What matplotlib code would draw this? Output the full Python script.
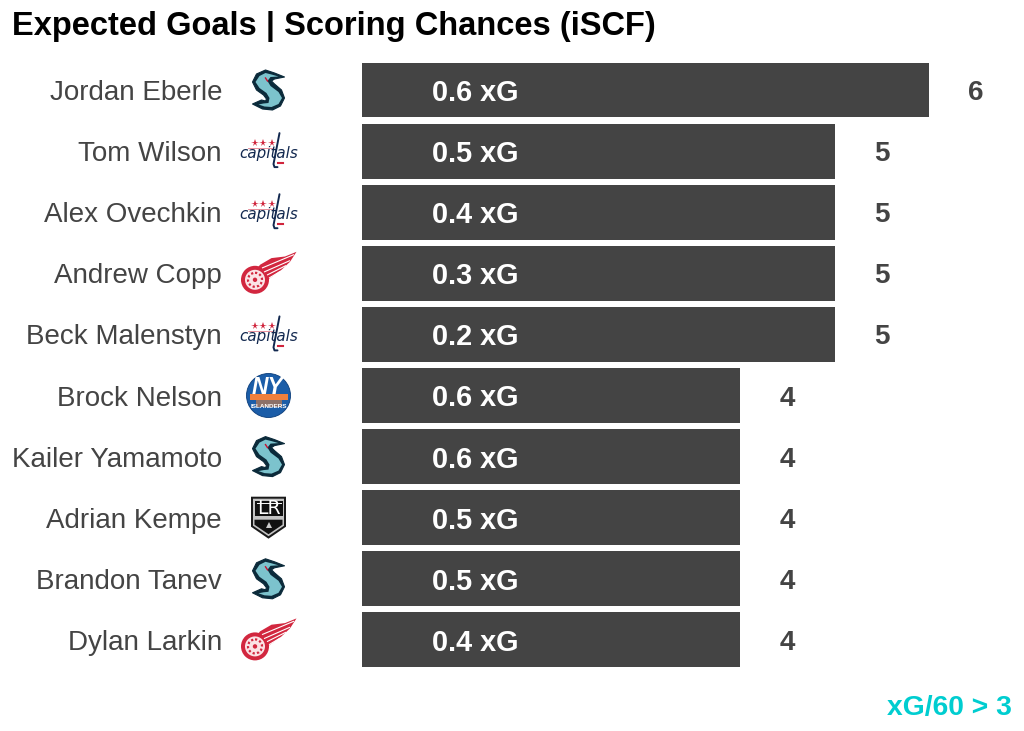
import matplotlib
matplotlib.use("Agg")
import matplotlib.pyplot as plt
from matplotlib.patches import Circle, Polygon, Rectangle

plt.rcParams['font.family'] = ['Liberation Sans', 'DejaVu Sans']

players = ["Jordan Eberle", "Tom Wilson", "Alex Ovechkin", "Andrew Copp", "Beck Malenstyn",
           "Brock Nelson", "Kailer Yamamoto", "Adrian Kempe", "Brandon Tanev", "Dylan Larkin"]
teams = ["SEA", "WSH", "WSH", "DET", "WSH", "NYI", "SEA", "LAK", "SEA", "DET"]
iscf = [6, 5, 5, 5, 5, 4, 4, 4, 4, 4]
xg = [0.6, 0.5, 0.4, 0.3, 0.2, 0.6, 0.6, 0.5, 0.5, 0.4]

W, H = 1024, 731
GREY = "#444444"
PT = 0.72

fig = plt.figure(figsize=(W / 100, H / 100), dpi=100, facecolor="white")
PX_PER_UNIT = 94.5
PITCH = 61.1
FIRST = 90.0
top, bottom = FIRST - PITCH / 2, FIRST + 9.5 * PITCH
ax = fig.add_axes([362 / W, 1 - bottom / H, (W - 362) / W, (bottom - top) / H])
ax.set_xlim(0, (W - 362) / PX_PER_UNIT)
ax.set_ylim(len(players) - 0.5, -0.5)
ypos = list(range(len(players)))
ax.barh(ypos, iscf, height=0.9, color=GREY)
ax.set_yticks(ypos, players, fontsize=20.0, color=GREY)
ax.tick_params(axis="y", length=0, pad=140 * PT)
ax.set_xticks([])
for s in ax.spines.values():
    s.set_visible(False)
ax.patch.set_visible(False)

for i in ypos:
    ax.text(70 / PX_PER_UNIT, i, f"{xg[i]:.1f} xG", color="white", fontsize=20.8,
            fontweight="bold", va="center_baseline", ha="left")
    ax.text(iscf[i] + 47 / PX_PER_UNIT, i, f"{iscf[i]}", color=GREY, fontsize=20,
            fontweight="bold", va="center_baseline", ha="center")

fig.text(12 / W, 1 - 35.5 / H, "Expected Goals | Scoring Chances (iSCF)", fontsize=23.5,
         fontweight="bold", color="black", ha="left", va="baseline")
fig.text(1012 / W, 1 - 715 / H, "xG/60 > 3", fontsize=20.3, fontweight="bold",
         color="#00CDD0", ha="right", va="baseline")

# Overlay in pixel coordinates for the hand-drawn team logos
lg = fig.add_axes([0, 0, 1, 1], zorder=5)
lg.set_xlim(0, W)
lg.set_ylim(H, 0)
lg.axis("off")


def poly(cx, cy, pts, **kw):
    kw.setdefault("ec", "none")
    lg.add_patch(Polygon([(cx + x, cy + y) for x, y in pts], **kw))


def kraken(cx, cy):
    outer = [(16, -13), (6, -17), (-3, -20), (-12, -16), (-16, -8), (-12, 0), (-5, 5),
             (-2, 9), (-3, 11), (-7, 10), (-16, 14), (-6, 19), (4, 20), (12, 16), (16, 8),
             (13, 0), (6, -6), (3, -9), (6, -11)]
    inner = [(10, -13.5), (3, -15.5), (-3, -17), (-9, -14), (-13, -8), (-9, -2), (-2, 3),
             (1, 8), (0, 13), (-5, 13.5), (-10, 14.5), (-4, 16.5), (3, 17), (10, 14), (13.5, 8),
             (10, 2), (2, -4), (-1, -9), (2, -13)]
    poly(cx, cy, outer, fc="#0b2a3a", ec="#0b2a3a", lw=0.8, joinstyle="round")
    poly(cx, cy, inner, fc="#7cc3cd", joinstyle="round")
    lg.plot([cx - 3, cx - 1], [cy - 12, cy - 9], color="#c8102e", lw=1)


def capitals(cx, cy):
    navy = "#12284f"
    red = "#d0243c"
    for dx in (-14, -6, 3):
        lg.plot(cx + dx, cy - 8, marker="*", ms=5.5, color=red, mew=0)
    lg.plot([cx - 21, cx + 4], [cy - 3, cy - 3], color=red, lw=0.6, alpha=0.6)
    lg.text(cx + 0.5, cy + 7, "capitals", style="italic", fontsize=10.9, color=navy,
            ha="center", va="baseline", family="DejaVu Sans")
    lg.plot([cx + 11, cx + 5, cx + 6, cx + 9], [cy - 18, cy + 13, cy + 16, cy + 16],
            color=navy, lw=1.4, solid_capstyle="round")
    lg.plot([cx + 9, cx + 14], [cy + 12, cy + 12], color=red, lw=1.5)


def redwings(cx, cy):
    red = "#d2273f"
    cy += 1.5
    wing = [(-8.5, -10), (3, -16.7), (16.5, -18.3), (28, -23), (21.5, -13), (13, -5),
            (1.5, 3.3), (-5, 8.3), (-16, 0)]
    poly(cx, cy, wing, fc=red)
    for a, b, c, d in [(-6, -7, 25, -20), (-4, -3, 21, -14), (-1, 0, 17, -9), (1, 3, 11, -3)]:
        lg.plot([cx + a, cx + c], [cy + b, cy + d], color="white", lw=0.8)
    lg.add_patch(Circle((cx - 13.5, cy + 5), 14, fc=red, ec="none"))
    lg.add_patch(Circle((cx - 13.5, cy + 5), 10, fc="#fbe3e6", ec="none"))
    lg.add_patch(Circle((cx - 13.5, cy + 5), 7, fc="none", ec=red, lw=1.6, ls=(0, (1, 1))))
    lg.add_patch(Circle((cx - 13.5, cy + 5), 2.2, fc=red, ec="none"))


def islanders(cx, cy):
    blue = "#1b5da8"
    orange = "#f0803c"
    lg.add_patch(Circle((cx, cy), 22, fc=blue, ec="#0b3d7a", lw=0.6))
    lg.add_patch(Rectangle((cx - 19, cy - 2), 38, 6, fc=orange, ec="none"))
    lg.add_patch(Rectangle((cx - 13, cy + 4), 26, 7, fc="#d9803f", ec="none", alpha=0.6))
    lg.text(cx - 1, cy - 2, "NY", color="white", fontsize=16.5, fontweight="bold",
            style="italic", ha="center", va="baseline")
    lg.text(cx, cy + 13, "ISLANDERS", color="white", fontsize=4.6, fontweight="bold",
            ha="center", va="baseline")


def kings(cx, cy):
    poly(cx, cy, [(-17.5, -21), (17.5, -21), (17.5, 9), (0, 21), (-17.5, 9)], fc="#1a1a1a")
    poly(cx, cy, [(-15.5, -19), (15.5, -19), (15.5, 8), (0, 18.5), (-15.5, 8)], fc="#c4c4c4")
    lg.add_patch(Rectangle((cx - 14, cy - 17), 28, 15, fc="#111111", ec="none"))
    poly(cx, cy, [(-14, 2), (14, 2), (14, 7), (0, 16.5), (-14, 7)], fc="#111111")
    lg.text(cx, cy - 4, "LR", color="white", fontsize=13.5, ha="center", va="baseline",
            family="DejaVu Sans")
    lg.plot([cx - 12, cx + 12], [cy - 15, cy - 15], color="white", lw=0.7)
    lg.plot(cx, cy + 7, marker="^", ms=4.5, color="#cccccc", mew=0)


draw = {"SEA": kraken, "WSH": capitals, "DET": redwings, "NYI": islanders, "LAK": kings}
for i, t in enumerate(teams):
    draw[t](268.5, FIRST + PITCH * i)

fig.savefig("out.png", dpi=100, facecolor="white")
